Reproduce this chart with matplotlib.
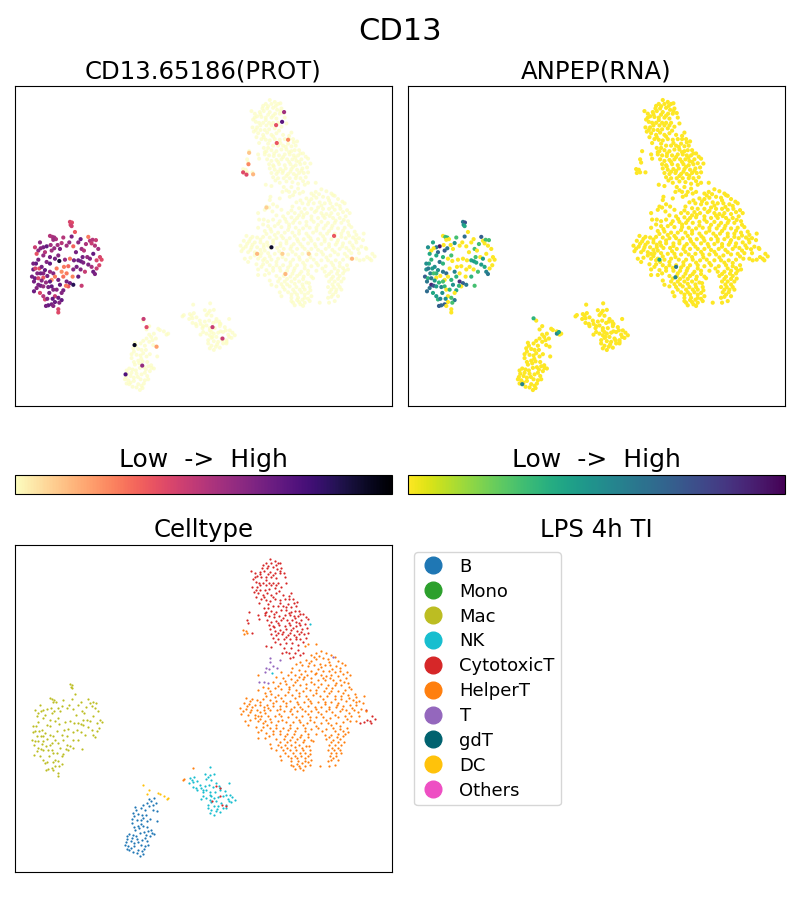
import numpy as np
import matplotlib
matplotlib.use('Agg')
import matplotlib.pyplot as plt
from matplotlib.cm import ScalarMappable
from matplotlib.colors import Normalize
from matplotlib.lines import Line2D

# cell positions, (x, y) in embedding units, y grows downward
# macrophages also carry (prot, rna) expression on a 0-1 scale
mac_cells = [
    (180,432,.42,.6),(186,434,.4,.75),(182,441,.42,.5),(185,445,.44,.4),(195,463,.36,.0),
    (120,475,.5,.0),(127,478,.52,.3),(133,480,.55,.35),(138,485,.52,.0),(130,487,.56,.0),
    (185,477,.64,.65),(178,495,.58,.0),(155,497,.5,.5),(143,503,.55,.0),(122,503,.55,.0),
    (110,507,.7,.95),(100,510,.66,.6),(92,513,.62,.0),(85,520,.6,.0),(80,530,.38,.4),
    (105,525,.5,.65),(125,520,.55,.7),(133,513,.58,.6),(150,515,.64,.0),(170,505,.55,.0),
    (190,507,.33,.0),(212,485,.68,.0),(235,478,.28,.7),(240,490,.5,.0),(248,487,.5,.3),
    (258,488,.46,.3),(245,498,.46,.0),(255,505,.5,.0),(265,515,.55,.0),(215,515,.56,.3),
    (222,520,.5,.0),(198,525,.66,.0),(205,550,.68,.4),(213,553,.68,.45),(220,557,.64,.4),
    (270,540,.42,.0),(275,548,.4,.0),(268,565,.42,.0),(260,575,.46,.0),(250,585,.68,.55),
    (255,592,.64,.6),(245,570,.54,.4),(235,563,.64,.45),(225,585,.46,.3),(212,578,.62,.0),
    (200,570,.66,.0),(190,578,.62,.0),(175,568,.32,.0),(162,570,.28,.0),(155,585,.24,.55),
    (148,552,.9,.0),(120,540,.66,.35),(110,555,.62,.6),(85,548,.66,.35),(78,560,.7,.4),
    (70,578,.7,.5),(66,600,.66,.7),(75,605,.68,.35),(85,605,.42,.6),(100,603,.36,.0),
    (105,580,.7,.5),(120,585,.58,.6),(130,590,.62,.65),(135,600,.28,.0),(125,610,.24,.0),
    (170,615,.66,.85),(180,620,.68,.7),(190,625,.85,.6),(175,630,.36,.0),(168,628,.28,.35),
    (215,628,.46,.3),(85,625,.64,.9),(92,628,.66,.75),(100,630,.58,.45),(80,635,.62,.6),
    (72,645,.68,.65),(90,650,.42,.4),(115,632,.66,.55),(125,630,.7,.35),(130,640,.62,.0),
    (118,650,.66,.5),(135,660,.46,.0),(145,665,.68,.3),(155,672,.7,.6),(148,680,.62,.3),
    (135,678,.68,.0),(125,685,.66,.7),(115,688,.7,.65),(108,690,.66,.7),(130,690,.62,.0),
    (145,700,.42,.0),(145,710,.4,.0),(105,670,.42,.35),(100,590,.62,.35),(88,575,.38,.45),
    (95,570,.66,.5),(112,598,.66,.0),(140,575,.28,.0),(180,545,.28,.0),(192,550,.66,.0),
    (232,540,.58,.0),(240,545,.62,.45),(250,530,.7,.0),(260,550,.42,.0),(150,625,.7,.5),
    (160,642,.66,.4),(82,590,.62,.55),(70,560,.66,.5),(100,535,.58,.4),(120,560,.7,.35),
    (135,545,.66,.0),(170,590,.28,.0),(205,600,.7,.35),(188,600,.26,.0),(140,640,.62,.35),
    (112,668,.62,.55),(128,668,.7,.5),(72,615,.66,.6),(95,612,.62,.45),(108,618,.58,.35),
    (90,495,.6,.4),(75,510,.45,.5),(160,480,.5,.3),(205,495,.6,.0),(228,500,.52,.3),
    (145,535,.62,.3),(165,548,.58,.0),(218,540,.66,.3),(76,575,.42,.6),(92,590,.66,.3),
    (145,610,.66,.35),(155,650,.62,.0),(100,660,.5,.45),(120,615,.7,.3),(160,600,.3,.35),
]

b_cells = [
    (432,775),(424,785),(438,790),(410,790),(400,797),(392,805),(418,800),(430,810),(405,812),
    (378,812),(370,820),(385,822),(395,825),(408,825),(372,830),(440,815),(380,840),(392,842),
    (410,845),(365,850),(420,838),(442,845),(385,858),(398,860),(388,866),(375,870),(358,882),
    (350,888),(368,885),(390,880),(402,878),(415,875),(425,880),(432,882),(420,890),(405,895),
    (412,905),(395,900),(380,898),(352,898),(348,908),(362,905),(372,910),(355,918),(350,928),
    (362,925),(372,920),(392,915),(405,918),(385,930),(368,938),(380,940),(395,935),(402,928),
    (390,948),(398,942),(415,915),(424,872),(378,888),(358,930),
    (375,803),(418,778),(428,795),(365,838),(400,835),(394,852),(372,862),(412,862),(384,908),
    (365,895),(408,885),(345,915),
]

nk_cells = [
    (601,682),(585,703),(600,705),(612,702),(540,715),(552,712),(560,725),(538,730),(548,742),
    (558,745),(590,718),(605,720),(620,730),(632,745),(658,730),(598,735),(572,745),(610,742),
    (590,750),(600,758),(615,758),(630,752),(645,755),(660,765),(668,772),(675,780),(580,770),
    (590,775),(572,778),(600,765),(612,775),(625,772),(640,770),(655,778),(665,788),(650,795),
    (635,790),(620,785),(605,788),(595,795),(612,798),(625,800),(640,805),(595,805),(605,812),
    (618,815),(630,818),(612,825),(600,820),(650,805),(580,752),(548,728),(570,735),(560,752),
    (595,712),(628,738),(585,738),(605,770),(648,765),(658,785),(578,758),(622,808),(600,780),
    (545,720),
]

cyto_cells = [
    (780,58),(795,64),(768,70),(785,70),(805,70),(812,68),(758,84),(772,84),(790,82),(802,88),
    (815,84),(725,92),(735,100),(750,95),(762,92),(780,95),(796,100),(810,100),(822,98),
    (742,108),(755,110),(768,112),(785,112),(800,115),(825,112),(730,118),(738,125),(748,128),
    (760,128),(778,128),(790,128),(805,128),(830,130),(728,142),(742,142),(752,150),(765,150),
    (778,148),(795,145),(815,140),(745,160),(760,165),(772,158),(785,165),(800,160),(820,165),
    (845,158),(732,155),(740,172),(755,178),(768,180),(780,182),(795,178),(810,180),(825,178),
    (838,178),(850,178),(862,185),(748,190),(762,205),(775,205),(790,198),(805,198),(820,198),
    (835,192),(845,200),(858,198),(770,215),(785,212),(800,215),(815,210),(830,210),(845,215),
    (855,212),(868,212),(880,222),(718,215),(745,225),(765,225),(778,228),(792,230),(808,228),
    (825,225),(840,225),(852,228),(865,228),(888,232),(748,238),(772,240),(785,245),(800,242),
    (815,240),(832,240),(848,240),(860,245),(875,240),(895,238),(712,240),(715,250),(778,255),
    (790,258),(808,255),(825,258),(842,255),(858,258),(872,255),(885,252),(780,268),(795,272),
    (812,270),(828,268),(845,270),(862,272),(878,268),(892,265),(728,280),(785,282),(800,285),
    (818,282),(835,285),(852,285),(868,282),(882,282),(895,280),(790,295),(805,298),(822,298),
    (840,298),(858,298),(872,298),(888,295),(810,312),(830,308),(848,310),(865,315),(768,318),
    (785,322),(822,325),(830,335),(818,340),(855,340),(850,350),(840,355),(870,345),(880,340),
    (1050,550),(1062,548),(1072,540),(1080,545),(1088,530),(1095,538),(1085,550),(1068,512),
    (775,77),(760,76),(798,76),(775,103),(752,102),(790,106),(812,92),(735,112),(768,120),
    (752,136),(785,136),(800,136),(738,150),(770,136),(808,152),(762,172),(790,170),(838,168),
    (852,188),(775,192),(812,190),(828,202),(765,218),(793,222),(838,218),(872,222),(857,235),
    (820,233),(805,248),(838,248),(868,248),(792,262),(850,263),(820,276),(875,275),(805,278),
    (842,278),(860,290),(830,291),(797,305),(880,307),(845,325),(865,330),(838,340),
]

helper_cells = [
    (885,318),(895,312),(918,312),(905,345),(918,340),(935,332),(950,338),(965,345),(975,352),
    (890,360),(905,362),(920,358),(940,355),(955,358),(985,362),(998,370),(860,372),(878,375),
    (895,378),(912,375),(930,372),(945,375),(962,375),(980,378),(1005,375),(848,385),(868,390),
    (885,392),(905,392),(925,388),(940,392),(958,392),(975,395),(992,392),(815,395),(835,405),
    (855,405),(875,402),(892,405),(915,402),(935,405),(950,408),(965,405),(985,408),(1000,402),
    (1020,405),(745,405),(800,412),(820,415),(845,418),(862,420),(880,418),(905,415),(925,420),
    (945,420),(970,420),(990,420),(1008,415),(790,425),(810,430),(830,432),(850,435),(870,435),
    (890,432),(912,432),(935,432),(955,435),(975,435),(995,435),(1015,430),(760,440),(775,445),
    (795,445),(815,448),(838,448),(858,450),(880,452),(900,450),(920,450),(942,452),(965,452),
    (985,452),(1005,450),(1025,448),(745,450),(765,460),(785,462),(805,465),(825,465),(848,465),
    (868,468),(890,468),(910,465),(932,468),(952,468),(975,468),(995,468),(1015,465),(1035,462),
    (1062,468),(710,475),(728,478),(742,480),(760,478),(780,480),(800,482),(820,482),(840,482),
    (862,485),(882,485),(902,482),(925,485),(945,485),(965,485),(985,488),(1008,482),(1030,480),
    (1048,482),(702,490),(718,492),(735,495),(752,495),(772,495),(790,498),(812,498),(830,498),
    (852,500),(872,500),(895,498),(915,500),(935,500),(958,500),(978,502),(1000,498),(1020,495),
    (1040,495),(692,505),(708,508),(725,510),(742,510),(762,510),(782,512),(802,512),(822,515),
    (842,515),(862,515),(885,515),(905,515),(925,518),(948,515),(968,518),(990,515),(1010,512),
    (1032,512),(1055,508),(695,522),(715,525),(735,525),(755,528),(775,528),(795,530),(815,530),
    (835,532),(858,532),(878,530),(900,532),(920,532),(940,532),(962,535),(985,532),(1005,530),
    (1025,528),(1048,528),(1070,515),(705,545),(722,542),(745,545),(765,545),(785,548),(805,545),
    (828,548),(850,548),(870,548),(892,550),(912,548),(935,550),(955,550),(978,550),(1000,548),
    (1022,545),(1040,545),(715,555),(740,562),(760,562),(780,565),(800,565),(820,565),(842,565),
    (862,565),(885,565),(905,568),(925,565),(948,568),(970,565),(990,568),(1012,565),(745,578),
    (770,580),(790,582),(812,582),(832,582),(852,582),(875,585),(895,582),(920,582),(945,585),
    (965,585),(985,582),(1005,582),(745,595),(765,595),(800,598),(822,598),(842,600),(862,598),
    (882,600),(905,600),(950,598),(970,600),(990,598),(1015,578),(785,625),(805,615),(825,615),
    (845,615),(868,615),(890,618),(910,605),(958,615),(975,615),(995,615),(800,630),(820,632),
    (840,630),(860,632),(880,632),(900,632),(955,632),(972,632),(990,632),(810,648),(835,648),
    (855,648),(875,648),(895,650),(960,648),(978,648),(995,640),(815,660),(845,665),(865,665),
    (885,665),(905,660),(965,662),(985,660),(850,680),(868,678),(885,680),(900,675),(930,680),
    (958,680),(975,675),(855,688),(880,690),(745,530),(760,550),(700,270),(708,272),(712,280),
    (702,282),(522,718),(518,722),(550,686),
    (912,351),(928,347),(958,366),(872,366),(990,383),(898,369),(935,382),(968,386),(920,398),
    (882,411),(960,414),(1012,396),(845,397),(868,412),(940,413),(978,428),(1002,426),(905,425),
    (855,427),(826,423),(925,441),(948,443),(968,444),(890,443),(838,440),(1018,441),(805,438),
    (782,454),(1000,459),(958,460),(920,459),(868,459),(835,457),(815,475),(795,472),(770,469),
    (940,476),(1040,472),(975,477),(896,476),(855,475),(752,486),(722,484),(1018,474),(1060,488),
    (1038,486),(995,478),(905,490),(830,490),(790,489),(762,502),(728,502),(712,499),(982,495),
    (945,492),(865,492),(845,507),(812,506),(775,505),(1028,504),(998,507),(958,508),(918,508),
    (878,508),(700,514),(752,518),(722,518),(1045,516),(975,525),(935,524),(895,524),(808,522),
    (765,520),(1018,520),(848,524),(735,535),(780,538),(818,540),(868,540),(950,541),(1012,538),
    (902,541),(752,537),(842,556),(800,555),(772,555),(880,557),(990,558),(965,557),(920,558),
    (835,572),(855,574),(810,573),(790,573),(1000,574),(975,575),(938,575),(885,575),(755,570),
    (870,592),(848,591),(825,590),(778,590),(982,591),(958,592),(895,592),(1000,590),(810,606),
    (832,607),(855,607),(880,608),(965,607),(985,607),(780,612),(855,622),(878,624),(898,620),
    (832,624),(815,623),(968,624),(985,624),(1002,606),(850,640),(870,640),(825,640),(885,640),
    (965,640),(980,640),(845,655),(862,655),(885,655),(902,642),(970,655),(955,665),(862,672),
    (878,671),(895,668),(845,675),(872,685),
]

t_cells = [
    (782,355),(780,365),(810,360),(770,385),(778,388),(790,378),(802,385),(765,395),(748,425),
    (762,425),(775,430),(970,350),
]
gdt_cells = [(788,400),(902,253)]
dc_cells = [(400,735),(418,752),(410,762),(445,760),(450,764),(462,768),(475,775),(470,778)]
cytotoxic_in_nk = [(618,738),(630,745),(632,768),(608,785),(638,795),(650,800)]

# cells that stand out from the pale background in each expression panel: (x, y, level)
prot_spots = [
    (823,95,.55),(817,125,.72),(799,135,.38),(835,180,.25),(801,190,.36),(718,220,.12),(716,255,.25),
    (700,280,.4),(710,287,.4),(730,286,.15),(973,475,.36),(785,510,.92),(742,530,.15),(818,530,.1),
    (897,530,.1),(1027,545,.15),(827,592,.15),(608,755,.46),(638,790,.46),(401,730,.46),(410,755,.4),
    (374,810,.95),(440,815,.2),(397,873,.58),(347,900,.75),(770,388,.1),
]
rna_spots = [
    (770,548,.4),(820,570,.6),(818,602,.55),(392,728,.35),(462,775,.55),(468,770,.4),(358,930,.55),
]

legend_names = ['B', 'Mono', 'Mac', 'NK', 'CytotoxicT', 'HelperT', 'T', 'gdT', 'DC', 'Others']
legend_colors = ['#1f77b4', '#2ca02c', '#bcbd22', '#17becf', '#d62728',
                 '#ff7f0e', '#9467bd', '#00626f', '#ffc20a', '#ee4fc3']

W, H = 800, 900


def px_axes(fig, left, top, right, bottom):
    # axes from pixel edges, top-left origin
    return fig.add_axes([left / W, 1 - bottom / H, (right - left) / W, (bottom - top) / H])


def setup(ax):
    ax.set_xlim(15, 1147)
    ax.set_ylim(997, 15)
    ax.set_xticks([])
    ax.set_yticks([])


mac = np.array(mac_cells, dtype=float)
rest = np.array(b_cells + nk_cells + cyto_cells + helper_cells + t_cells + gdt_cells
                + dc_cells + cytotoxic_in_nk, dtype=float)
prot = np.array(prot_spots, dtype=float)
rna = np.array(rna_spots, dtype=float)

fig = plt.figure(figsize=(8, 9), dpi=100)
fig.text(0.5, 0.9655, 'CD13', ha='center', va='center', fontsize=22)

# protein panel
ax1 = px_axes(fig, 15, 86, 392, 406)
setup(ax1)
ax1.scatter(rest[:, 0], rest[:, 1], c=np.zeros(len(rest)), cmap='magma_r', vmin=0, vmax=1,
            s=8, linewidths=0, alpha=0.7)
ax1.scatter(mac[:, 0], mac[:, 1], c=mac[:, 2], cmap='magma_r', vmin=0, vmax=1,
            s=9, linewidths=0)
ax1.scatter(prot[:, 0], prot[:, 1], c=prot[:, 2], cmap='magma_r', vmin=0, vmax=1,
            s=9, linewidths=0)
ax1.set_title('CD13.65186(PROT)', fontsize=17.6, pad=5.5)

# rna panel
ax2 = px_axes(fig, 408, 86, 785, 406)
setup(ax2)
ax2.scatter(rest[:, 0], rest[:, 1], c=np.zeros(len(rest)), cmap='viridis_r', vmin=0, vmax=1,
            s=9, linewidths=0)
ax2.scatter(mac[:, 0], mac[:, 1], c=mac[:, 3], cmap='viridis_r', vmin=0, vmax=1,
            s=9, linewidths=0)
ax2.scatter(rna[:, 0], rna[:, 1], c=rna[:, 2], cmap='viridis_r', vmin=0, vmax=1,
            s=9, linewidths=0)
ax2.set_title('ANPEP(RNA)', fontsize=17.6, pad=5.5)

# colorbars
for left, right, cmap in [(15, 392, 'magma_r'), (408, 785, 'viridis_r')]:
    cax = px_axes(fig, left, 475, right, 494)
    sm = ScalarMappable(norm=Normalize(0, 1), cmap=cmap)
    cb = fig.colorbar(sm, cax=cax, orientation='horizontal')
    cb.set_ticks([])
    cax.set_title('Low  ->  High', fontsize=18, pad=6)

# celltype panel
ax3 = px_axes(fig, 15, 545, 392, 872)
setup(ax3)
groups = [(mac[:, :2], '#bcbd22'), (np.array(b_cells), '#1f77b4'), (np.array(nk_cells), '#17becf'),
          (np.array(cyto_cells), '#d62728'), (np.array(helper_cells), '#ff7f0e'),
          (np.array(t_cells), '#9467bd'), (np.array(gdt_cells), '#17becf'),
          (np.array(dc_cells), '#ffc20a'), (np.array(cytotoxic_in_nk), '#d62728')]
for xy, color in groups:
    ax3.scatter(xy[:, 0], xy[:, 1], c=color, s=2.5, linewidths=0)
ax3.set_title('Celltype', fontsize=17.6, pad=6)

# legend panel
ax4 = px_axes(fig, 408, 545, 785, 872)
ax4.axis('off')
ax4.set_title('LPS 4h TI', fontsize=17.6, pad=6)
handles = [Line2D([], [], linestyle='none', marker='o', markersize=12, color=c) for c in legend_colors]
ax4.legend(handles, legend_names, loc='upper left', bbox_to_anchor=(6 / 377, 1 - 7 / 327), borderaxespad=0,
           fontsize=13, labelspacing=0.38, handlelength=1.48, handletextpad=0.72, borderpad=0.32)

fig.savefig('out.png', dpi=100)
